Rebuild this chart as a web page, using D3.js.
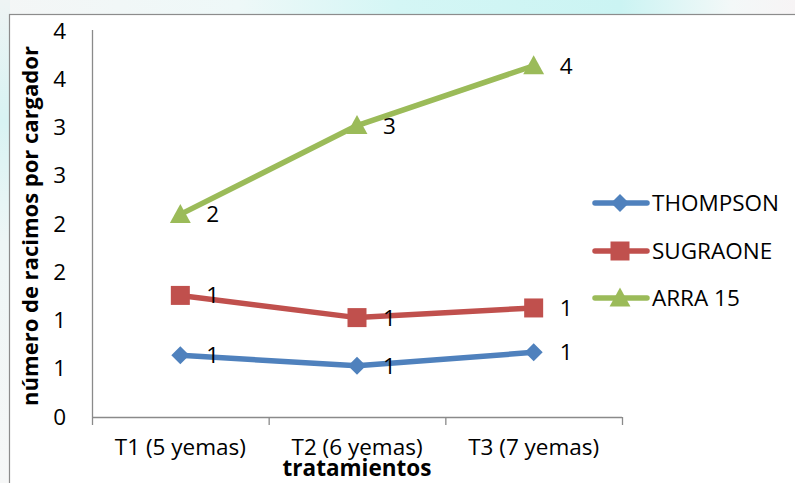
<!DOCTYPE html>
<html>
<head>
<meta charset="utf-8">
<script src="https://cdn.jsdelivr.net/npm/d3@7/dist/d3.min.js"></script>
<style>
  html, body { margin: 0; padding: 0; background: #ffffff; }
  svg { display: block; }
  text { font-family: "Open Sans", "Noto Sans", sans-serif; fill: #000; }
</style>
</head>
<body>
<svg id="chart" width="795" height="483"></svg>
<script>
// Treatments on the x axis
const categories = ["T1 (5 yemas)", "T2 (6 yemas)", "T3 (7 yemas)"];

// Bunches per cane for each variety
const seriesNames = ["THOMPSON", "SUGRAONE", "ARRA 15"];
const thompson = [0.64, 0.53, 0.67];
const sugraone = [1.26, 1.03, 1.13];
const arra15   = [2.10, 3.02, 3.64];

// Y axis ticks and their (rounded) labels
const yTickValues = [0, 0.5, 1, 1.5, 2, 2.5, 3, 3.5, 4];
const yTickLabels = ["0", "1", "1", "2", "2", "3", "3", "4", "4"];

const yTitle = "número de racimos por cargador";
const xTitle = "tratamientos";

const series = [
  { name: seriesNames[0], values: thompson, color: "#4F81BD", marker: "diamond" },
  { name: seriesNames[1], values: sugraone, color: "#C0504D", marker: "square" },
  { name: seriesNames[2], values: arra15,   color: "#9BBB59", marker: "triangle" }
];

const svg = d3.select("#chart");
const W = 795, H = 483;
const fontSize = 22.5;

// soft page backdrop around the chart frame
const defs = svg.append("defs");
const gTop = defs.append("linearGradient").attr("id", "bgTop").attr("x1", 0).attr("x2", 1).attr("y1", 0).attr("y2", 0);
[[0, "#f4f6f6"], [0.3, "#eef8f8"], [0.5, "#d4f6f5"], [0.78, "#cbf4f3"], [0.92, "#f3f8f8"], [1, "#f7f4f5"]]
  .forEach(([o, c]) => gTop.append("stop").attr("offset", o).attr("stop-color", c));
const gLeft = defs.append("linearGradient").attr("id", "bgLeft").attr("x1", 0).attr("x2", 0).attr("y1", 0).attr("y2", 1);
[[0, "#eef4f4"], [0.25, "#d8f3f3"], [0.5, "#eef6f6"], [1, "#f6f7f7"]]
  .forEach(([o, c]) => gLeft.append("stop").attr("offset", o).attr("stop-color", c));

svg.append("rect").attr("x", 0).attr("y", 0).attr("width", W).attr("height", 15).attr("fill", "url(#bgTop)");
svg.append("rect").attr("x", 0).attr("y", 0).attr("width", 10).attr("height", H).attr("fill", "url(#bgLeft)");

// chart frame (runs past the right and bottom edges)
svg.append("rect")
  .attr("x", 9.5).attr("y", 14.5)
  .attr("width", W + 10).attr("height", H + 10)
  .attr("fill", "#ffffff")
  .attr("stroke", "#8c8c8c")
  .attr("stroke-width", 1.2);

// scales
const plot = { left: 92, right: 622, top: 31, bottom: 417 };
const x = d3.scaleBand().domain(categories).range([plot.left, plot.right]).padding(0);
const xc = d => x(d) + x.bandwidth() / 2;
const y = d3.scaleLinear().domain([0, 4]).range([plot.bottom, plot.top]);

const axisColor = "#8a8a8a";

// y axis
const yAxis = svg.append("g")
  .attr("transform", `translate(${plot.left},0)`)
  .call(d3.axisLeft(y).tickValues(yTickValues).tickSize(0).tickPadding(26)
    .tickFormat((d, i) => yTickLabels[i]));
yAxis.select(".domain").remove();
yAxis.selectAll("text").attr("font-size", fontSize).attr("font-family", "'Open Sans', sans-serif").attr("fill", "#000");
svg.append("line")
  .attr("x1", plot.left + 0.5).attr("x2", plot.left + 0.5)
  .attr("y1", y(4.0) - 1).attr("y2", plot.bottom)
  .attr("stroke", axisColor).attr("stroke-width", 1.3);

// x axis: labels centred in each band, ticks on band boundaries
const xAxis = svg.append("g")
  .attr("transform", `translate(0,${plot.bottom})`)
  .call(d3.axisBottom(x).tickSize(0).tickPadding(22));
xAxis.select(".domain").remove();
xAxis.selectAll("text").attr("font-size", fontSize).attr("font-family", "'Open Sans', sans-serif").attr("fill", "#000");
svg.append("line")
  .attr("x1", plot.left).attr("x2", plot.right)
  .attr("y1", plot.bottom + 0.5).attr("y2", plot.bottom + 0.5)
  .attr("stroke", axisColor).attr("stroke-width", 1.3);
const boundaries = categories.map(c => x(c)).concat([x.range()[1]]);
svg.selectAll(".xtick").data(boundaries).join("line")
  .attr("class", "xtick")
  .attr("x1", d => d + 0.5).attr("x2", d => d + 0.5)
  .attr("y1", plot.bottom).attr("y2", plot.bottom + 8)
  .attr("stroke", axisColor).attr("stroke-width", 1.3);

// axis titles
svg.append("text")
  .attr("transform", `translate(38,${(plot.top + plot.bottom) / 2 + 2}) rotate(-90)`)
  .attr("text-anchor", "middle")
  .attr("font-size", 22).attr("font-weight", "bold")
  .text(yTitle);
svg.append("text")
  .attr("x", xc(categories[1])).attr("y", 476)
  .attr("text-anchor", "middle")
  .attr("font-size", 22.5).attr("font-weight", "bold")
  .text(xTitle);

// marker shapes
function markerPath(type, size) {
  const s = size / 2;
  if (type === "diamond") return `M0,${-s}L${s},0L0,${s}L${-s},0Z`;
  if (type === "square") return `M${-s},${-s}H${s}V${s}H${-s}Z`;
  // triangle
  return `M0,${-s * 1.1}L${s * 1.1},${s * 0.9}L${-s * 1.1},${s * 0.9}Z`;
}
const markerSize = { diamond: 18, square: 19, triangle: 19 };

const line = d3.line().x((d, i) => xc(categories[i])).y(d => y(d));
const fmt = d3.format(".0f");

series.forEach(s => {
  const g = svg.append("g");
  g.append("path")
    .attr("d", line(s.values))
    .attr("fill", "none")
    .attr("stroke", s.color)
    .attr("stroke-width", 5.5)
    .attr("stroke-linejoin", "round")
    .attr("stroke-linecap", "round");
  g.selectAll("path.m").data(s.values).join("path")
    .attr("class", "m")
    .attr("transform", (d, i) => `translate(${xc(categories[i])},${y(d)})`)
    .attr("d", markerPath(s.marker, markerSize[s.marker]))
    .attr("fill", s.color);
  g.selectAll("text").data(s.values).join("text")
    .attr("x", (d, i) => xc(categories[i]) + 26)
    .attr("y", d => y(d) + 8)
    .attr("font-size", fontSize)
    .text(d => fmt(d));
});

// legend
const legend = svg.append("g");
const legendY = [203, 251, 298];
series.forEach((s, i) => {
  const row = legend.append("g").attr("transform", `translate(0,${legendY[i]})`);
  row.append("line")
    .attr("x1", 595).attr("x2", 647).attr("y1", 0).attr("y2", 0)
    .attr("stroke", s.color).attr("stroke-width", 5.5).attr("stroke-linecap", "round");
  row.append("path")
    .attr("transform", "translate(620,0)")
    .attr("d", markerPath(s.marker, markerSize[s.marker]))
    .attr("fill", s.color);
  row.append("text")
    .attr("x", 652).attr("y", 8)
    .attr("font-size", fontSize)
    .text(s.name);
});
</script>
</body>
</html>
